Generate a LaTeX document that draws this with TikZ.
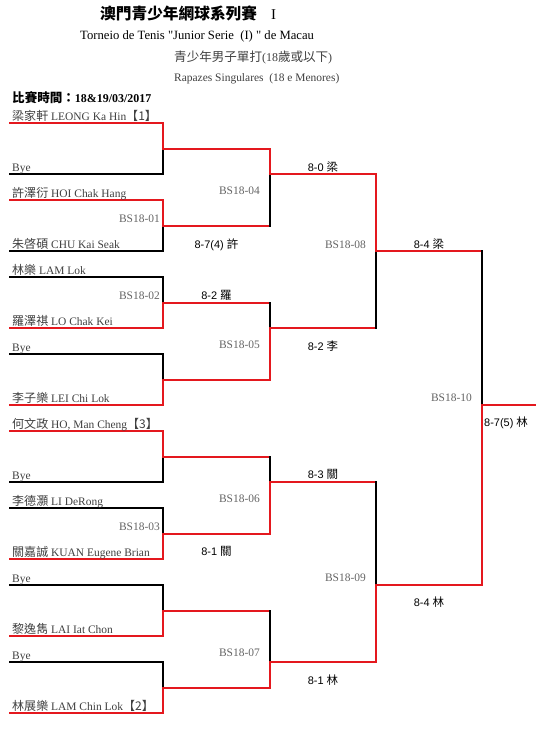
\documentclass[tikz,border=0pt]{standalone}
\usepackage{fontspec}
\setmainfont{Liberation Serif}
\newfontfamily\cjk[Scale=1.05]{Noto Sans CJK TC}
\newfontfamily\scorefont{Liberation Sans}
\definecolor{winred}{RGB}{228,24,30}
\definecolor{namegray}{RGB}{64,64,64}
\definecolor{labgray}{RGB}{100,100,100}
\tikzset{
  win/.style={draw=winred, line width=2bp, line cap=rect},
  lose/.style={draw=black, line width=2bp, line cap=rect},
  player/.style={anchor=base west, inner sep=0pt, text=namegray, font=\fontsize{11.5}{12}\selectfont},
  matchid/.style={anchor=base east, inner sep=0pt, text=labgray, font=\fontsize{11.5}{12}\selectfont},
  score/.style={anchor=base, inner sep=0pt, font=\scorefont\fontsize{11}{12}\selectfont},
  headline/.style={anchor=base west, inner sep=0pt}
}
% column, top row, output row, bottom row, winner (t/b)
\newcommand\game[5]{%
  \ifx t#5
    \draw[lose] (#1 |- r#3) -- (#1 |- r#4);
    \draw[win] (#1 |- r#2) -- (#1 |- r#3);
  \else
    \draw[lose] (#1 |- r#2) -- (#1 |- r#3);
    \draw[win] (#1 |- r#3) -- (#1 |- r#4);
  \fi}
\begin{document}
\begin{tikzpicture}[x=1bp, y=-1bp]
    \useasboundingbox (0,0) rectangle (544,740);
    \foreach \r in {0,...,23} \coordinate (r\r) at (0,{123+25.67*\r});
    \coordinate (c0) at (10,0);
    \coordinate (c1) at (163,0);
    \coordinate (c2) at (270,0);
    \coordinate (c3) at (376,0);
    \coordinate (c4) at (482,0);
    \coordinate (c5) at (535,0);
    \coordinate (m1) at (216.5,0);
    \coordinate (m2) at (323,0);
    \coordinate (m3) at (429,0);

    % header
    \node[headline, font=\fontsize{15}{16}\selectfont] (title) at (100,20) {{\cjk\bfseries 澳門青少年網球系列賽}\hspace{14bp}I};
    \node[headline, font=\fontsize{12.7}{15}\selectfont] (torneio) at (80,40) {Torneio de Tenis \textquotedbl Junior Serie\ \ (I) \textquotedbl\ de Macau};
    \node[headline, text=namegray, font=\fontsize{12}{13}\selectfont] (event) at (174,62) {{\cjk 青少年男子單打}(18{\cjk 歲或以下})};
    \node[headline, text=namegray, font=\fontsize{11.5}{13}\selectfont] (rapazes) at (174,81) {Rapazes Singulares\ \ (18 e Menores)};
    \node[headline, font=\fontsize{12}{13}\selectfont\bfseries] (date) at (12,102) {{\cjk\bfseries 比賽時間：}18\&19/03/2017};

    % first round lines
    \foreach \r/\s in {2/lose,5/lose,6/lose,9/lose,14/lose,15/lose,18/lose,21/lose,
                       0/win,3/win,8/win,11/win,12/win,17/win,20/win,23/win}
      \draw[\s] (c0 |- r\r) -- (c1 |- r\r);

    % players
    \foreach \r/\name in {0/{{\cjk 梁家軒} LEONG Ka Hin{\cjk【1】}},
                          2/{Bye},
                          3/{{\cjk 許澤衍} HOI Chak Hang},
                          5/{{\cjk 朱啓碩} CHU Kai Seak},
                          6/{{\cjk 林樂} LAM Lok},
                          8/{{\cjk 羅澤祺} LO Chak Kei},
                          9/{Bye},
                          11/{{\cjk 李子樂} LEI Chi Lok},
                          12/{{\cjk 何文政} HO, Man Cheng{\cjk【3】}},
                          14/{Bye},
                          15/{{\cjk 李德灝} LI DeRong},
                          17/{{\cjk 關嘉誠} KUAN Eugene Brian},
                          18/{Bye},
                          20/{{\cjk 黎逸雋} LAI Iat Chon},
                          21/{Bye},
                          23/{{\cjk 林展樂} LAM Chin Lok{\cjk【2】}}}
      \node[player] (p\r) at ([xshift=2bp, yshift=3bp]c0 |- r\r) {\name};

    % first round
    \game{c1}{0}{1}{2}{t}
    \game{c1}{3}{4}{5}{t}
    \game{c1}{6}{7}{8}{b}
    \game{c1}{9}{10}{11}{b}
    \game{c1}{12}{13}{14}{t}
    \game{c1}{15}{16}{17}{b}
    \game{c1}{18}{19}{20}{b}
    \game{c1}{21}{22}{23}{b}
    \foreach \r in {1,4,7,10,13,16,19,22}
      \draw[win] (c1 |- r\r) -- (c2 |- r\r);

    % second round
    \game{c2}{1}{2}{4}{t}
    \game{c2}{7}{8}{10}{b}
    \game{c2}{13}{14}{16}{b}
    \game{c2}{19}{21}{22}{b}
    \foreach \r in {2,8,14,21}
      \draw[win] (c2 |- r\r) -- (c3 |- r\r);

    % semi finals
    \game{c3}{2}{5}{8}{t}
    \game{c3}{14}{18}{21}{b}
    \foreach \r in {5,18}
      \draw[win] (c3 |- r\r) -- (c4 |- r\r);

    % final
    \game{c4}{5}{11}{18}{b}
    \draw[win] (c4 |- r11) -- (c5 |- r11);

    % match numbers
    \node[matchid] (bs01) at ([xshift=-3bp, yshift=3bp]c1 |- r4) {BS18-01};
    \node[matchid] (bs02) at ([xshift=-3bp, yshift=3bp]c1 |- r7) {BS18-02};
    \node[matchid] (bs03) at ([xshift=-3bp, yshift=3bp]c1 |- r16) {BS18-03};
    \node[matchid] (bs04) at ([xshift=-10bp, yshift=6bp]c2 |- r3) {BS18-04};
    \node[matchid] (bs05) at ([xshift=-10bp, yshift=6bp]c2 |- r9) {BS18-05};
    \node[matchid] (bs06) at ([xshift=-10bp, yshift=6bp]c2 |- r15) {BS18-06};
    \node[matchid] (bs07) at ([xshift=-10bp, yshift=6bp]c2 |- r21) {BS18-07};
    \node[matchid] (bs08) at ([xshift=-10bp, yshift=3bp]c3 |- r5) {BS18-08};
    \node[matchid] (bs09) at ([xshift=-10bp, yshift=4bp]c3 |- r18) {BS18-09};
    \node[matchid] (bs10) at ([xshift=-10bp, yshift=4bp]c4 |- r11) {BS18-10};

    % scores
    \node[score] (s01) at ([yshift=3bp]m1 |- r5) {8-7(4) {\cjk 許}};
    \node[score] (s02) at ([yshift=3bp]m1 |- r7) {8-2 {\cjk 羅}};
    \node[score] (s03) at ([yshift=4bp]m1 |- r17) {8-1 {\cjk 關}};
    \node[score] (s04) at ([yshift=3bp]m2 |- r2) {8-0 {\cjk 梁}};
    \node[score] (s05) at ([yshift=4bp]m2 |- r9) {8-2 {\cjk 李}};
    \node[score] (s06) at ([yshift=4bp]m2 |- r14) {8-3 {\cjk 關}};
    \node[score] (s07) at ([yshift=3bp]m2 |- r22) {8-1 {\cjk 林}};
    \node[score] (s08) at ([yshift=3bp]m3 |- r5) {8-4 {\cjk 梁}};
    \node[score] (s09) at ([yshift=4bp]m3 |- r19) {8-4 {\cjk 林}};
    \node[score, anchor=base west] (s10) at ([xshift=2bp, yshift=5bp]c4 |- r12) {8-7(5) {\cjk 林}};
\end{tikzpicture}
\end{document}
